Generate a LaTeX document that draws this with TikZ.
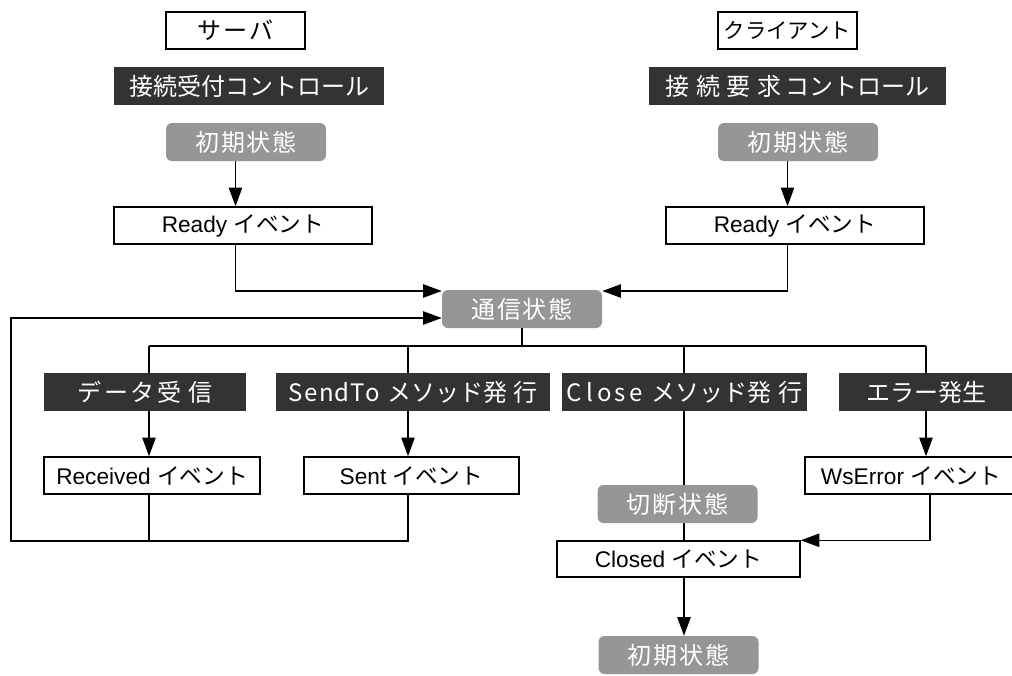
\documentclass[tikz,border=0pt]{standalone}
\usepackage{fontspec}
\setmainfont{Liberation Sans}
\newfontfamily\jp{Noto Sans CJK JP}
\newfontfamily\jpls[LetterSpace=8]{Noto Sans CJK JP}
\usetikzlibrary{arrows.meta,calc}
\definecolor{dk}{HTML}{333333}
\definecolor{gr}{HTML}{969696}
\newcommand\hw[1]{\makebox[0.64em]{#1}}
\begin{document}
\begin{tikzpicture}[x=0.75pt,y=-0.75pt,
  ln/.style={line width=1.1pt},
  arr/.style={ln,-{Triangle[length=14pt,width=10pt]}},
  titlebox/.style={draw,line width=1.1pt,fill=white,inner sep=0pt,minimum width=104.25pt,minimum height=27.75pt,font=\jp\fontsize{16}{16}\selectfont},
  darkbox/.style={fill=dk,text=white,inner sep=0pt,minimum height=28.5pt,font=\jp\fontsize{18}{18}\selectfont},
  graybox/.style={fill=gr,text=white,rounded corners=4.5pt,inner sep=0pt,minimum width=120pt,minimum height=28.5pt,font=\jpls\fontsize{18}{18}\selectfont},
  evbox/.style={draw,line width=1.1pt,fill=white,inner sep=0pt,minimum height=27.75pt,font=\fontsize{17}{17}\selectfont}]
\path[use as bounding box,clip] (0,0) rectangle (1012,675);
\fill[white] (0,0) rectangle (1012,675);

% titles
\node[titlebox,font=\jp\fontsize{18}{18}\selectfont] (srv) at (235.5,30.5) {サ\kern1.5pt ー\kern1.5pt バ};
\node[titlebox] (cli) at (787.5,30.5) {クライアント};
% controls
\node[darkbox,minimum width=202.5pt] (ctlS) at (249,86) {接続受付コントロール};
\node[darkbox,minimum width=222.75pt] (ctlC) at (797.5,86) {接\kern5pt 続\kern5pt 要\kern5pt 求\kern3pt コントロール};
% initial states
\node[graybox] (initS) at (246,142) {初期状態};
\node[graybox] (initC) at (798,142) {初期状態};
% ready events
\node[evbox,minimum width=193.5pt] (rdyS) at (243,225.5) {Ready {\jp イベント}};
\node[evbox,minimum width=193.5pt] (rdyC) at (795,225.5) {Ready {\jp イベント}};
% communicating
\node[graybox] (comm) at (522,309) {通信状態};
% bus coordinates
\coordinate (c1) at (149,346);
\coordinate (c2) at (408,346);
\coordinate (c3) at (684,346);
\coordinate (c4) at (926,346);
\coordinate (c5) at (930,346);
\coordinate (lb) at (11,541);
% triggers
\node[darkbox,minimum width=151.5pt] (dataR) at (145,392) {デ\kern2pt ー\kern2pt タ\kern2pt 受\kern5pt 信};
\node[darkbox,minimum width=205.5pt] (sendto) at (413,392) {\hw{S}\hw{e}\hw{n}\hw{d}\hw{T}\hw{o}\kern5pt メソッド発\kern5pt 行};
\node[darkbox,minimum width=183.75pt] (closeM) at (684.5,392) {\hw{C}\hw{l}\hw{o}\hw{s}\hw{e}\kern6pt メソッド発\kern5pt 行};
\node[darkbox,minimum width=130.5pt] (err) at (926,392) {エラー発生};
% events
\node[evbox,minimum width=162pt] (recv) at (152,475.5) {Received {\jp イベント}};
\node[evbox,minimum width=161.25pt] (sent) at (411.5,475.5) {Sent {\jp イベント}};
\node[evbox,minimum width=159pt] (wserr) at (911,475.5) {WsError {\jp イベント}};
\node[evbox,minimum width=182.25pt,minimum height=27pt] (closed) at (678.5,559) {Closed {\jp イベント}};
\node[graybox] (init3) at (678.5,655) {初期状態};

% connectors
\draw[arr] (initS.south -| srv) -- (rdyS.north -| srv);
\draw[arr] (initC.south -| cli) -- (rdyC.north -| cli);
\draw[arr] (rdyS.south -| srv) |- ($(comm.west)+(0,-18)$);
\draw[arr] (rdyC.south -| cli) |- ($(comm.east)+(0,-18)$);
\draw[ln] (comm.south) -- (comm.south |- c1);
\draw[ln] (c1) -- (c4);
\draw[ln] (c1) -- (c1 |- dataR.north);
\draw[ln] (c2) -- (c2 |- sendto.north);
\draw[ln] (c3) -- (c3 |- closeM.north);
\draw[ln] (c4) -- (c4 |- err.north);
\draw[arr] (c1 |- dataR.south) -- (c1 |- recv.north);
\draw[arr] (c2 |- sendto.south) -- (c2 |- sent.north);
\draw[arr] (c4 |- err.south) -- (c4 |- wserr.north);
\draw[ln] (c1 |- recv.south) -- (c1 |- lb);
\draw[arr] (c2 |- sent.south) |- (lb) |- ($(comm.west)+(0,9)$);
\draw[ln] (c3 |- closeM.south) -- (c3 |- closed.north);
\draw[arr] (wserr.south -| c5) |- (closed.north east);
\draw[arr] (c3 |- closed.south) -- (c3 |- init3.north);
% disconnected state drawn over the line
\node[graybox] (cut) at (677.5,504) {切断状態};
\end{tikzpicture}
\end{document}
